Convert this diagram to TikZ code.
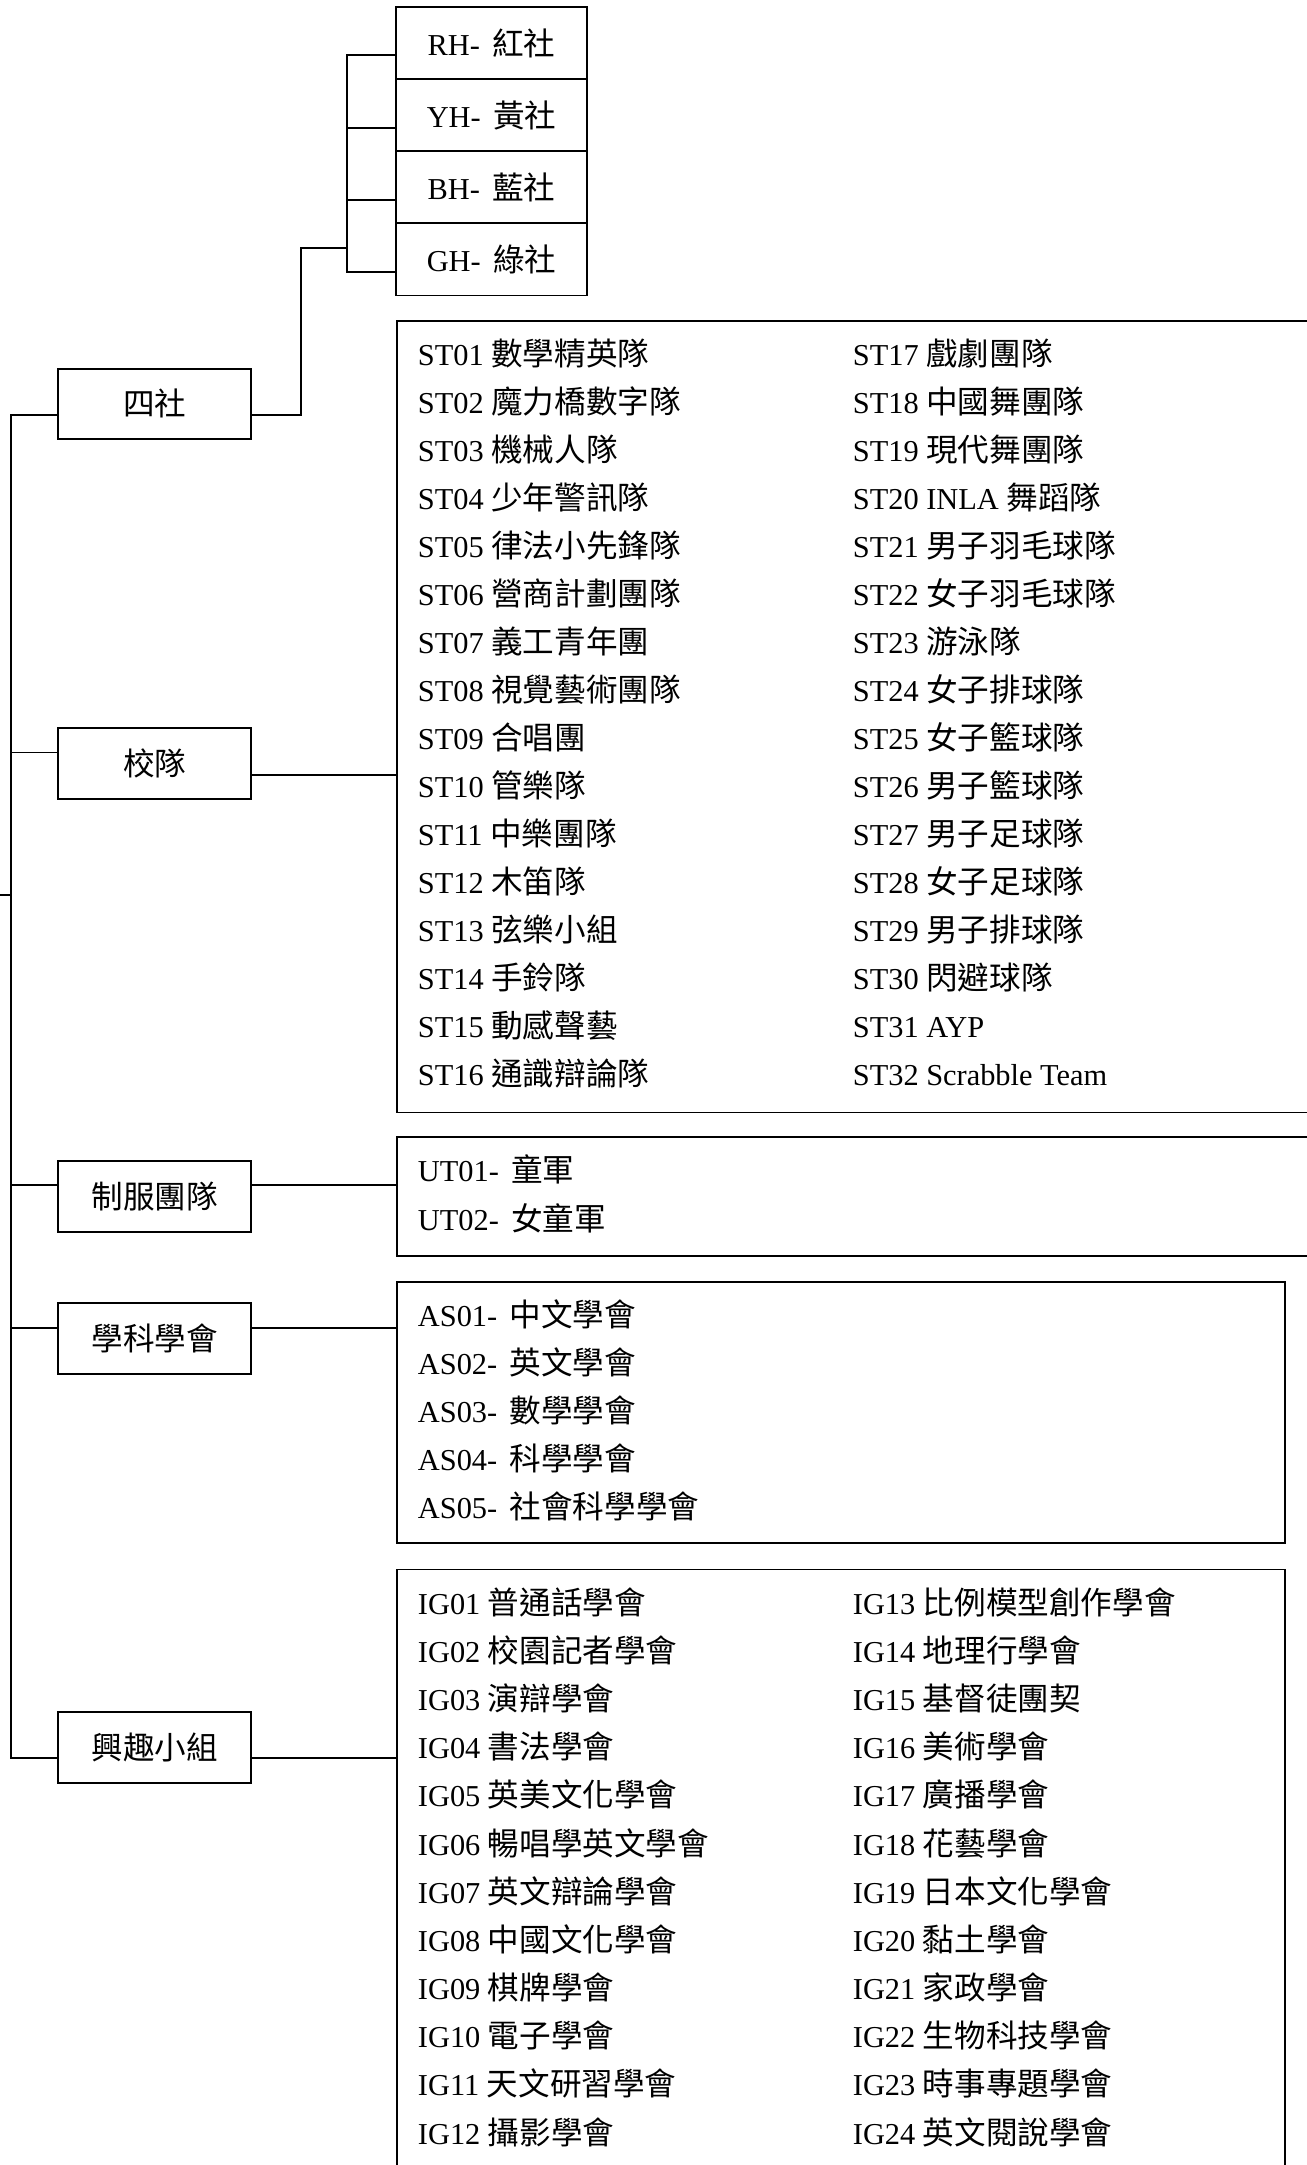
\documentclass[tikz,border=0pt]{standalone}
\usepackage{fontspec}
\setmainfont{Liberation Serif}
\newfontfamily\cjk[Scale=1.04]{Noto Sans CJK TC}
\newcommand{\zh}[1]{{\cjk #1}}

\begin{document}
\begin{tikzpicture}[x=1pt,y=-1pt,line width=1.4pt,
  every node/.style={font=\fontsize{22}{26}\selectfont},
  catbox/.style={draw,minimum width=140pt,minimum height=51pt,inner sep=0pt},
  housebox/.style={draw,minimum width=138pt,minimum height=52.25pt,inner sep=0pt},
  listbox/.style={draw,anchor=north west,inner sep=0pt},
  entry/.style={anchor=base west,inner sep=0pt}]
\useasboundingbox (0,0) rectangle (946,1568);

% the four houses
\node[housebox] (rh) at (356,31.1) {RH-\hspace{9pt}\zh{紅社}};
\node[housebox] (yh) at (356,83.4) {YH-\hspace{9pt}\zh{黃社}};
\node[housebox] (bh) at (356,135.6) {BH-\hspace{9pt}\zh{藍社}};
\node[housebox] (gh) at (356,187.9) {GH-\hspace{9pt}\zh{綠社}};

% categories
\node[catbox] (houses) at (112,292.5) {\zh{四社}};
\node[catbox] (school) at (112,553) {\zh{校隊}};
\node[catbox] (uniform) at (112,866.5) {\zh{制服團隊}};
\node[catbox] (academic) at (112,969.5) {\zh{學科學會}};
\node[catbox] (interest) at (112,1265.5) {\zh{興趣小組}};

% list boxes
\node[listbox,minimum width=673pt,minimum height=573pt] (teamlist) at (287,232) {};
\node[listbox,minimum width=673pt,minimum height=86pt] (uniformlist) at (287,823) {};
\node[listbox,minimum width=643pt,minimum height=189pt] (academiclist) at (287,928) {};
\node[listbox,minimum width=643pt,minimum height=450pt] (interestlist) at (287,1136) {};

\foreach \txt [count=\i from 0] in {ST01 \zh{數學精英隊},ST02 \zh{魔力橋數字隊},ST03 \zh{機械人隊},
  ST04 \zh{少年警訊隊},ST05 \zh{律法小先鋒隊},ST06 \zh{營商計劃團隊},ST07 \zh{義工青年團},
  ST08 \zh{視覺藝術團隊},ST09 \zh{合唱團},ST10 \zh{管樂隊},ST11 \zh{中樂團隊},ST12 \zh{木笛隊},
  ST13 \zh{弦樂小組},ST14 \zh{手鈴隊},ST15 \zh{動感聲藝},ST16 \zh{通識辯論隊},
  ST17 \zh{戲劇團隊},ST18 \zh{中國舞團隊},ST19 \zh{現代舞團隊},ST20 INLA \zh{舞蹈隊},
  ST21 \zh{男子羽毛球隊},ST22 \zh{女子羽毛球隊},ST23 \zh{游泳隊},ST24 \zh{女子排球隊},
  ST25 \zh{女子籃球隊},ST26 \zh{男子籃球隊},ST27 \zh{男子足球隊},ST28 \zh{女子足球隊},
  ST29 \zh{男子排球隊},ST30 \zh{閃避球隊},ST31 AYP,ST32 Scrabble Team}
  \node[entry] (st\i) at ({302+315*int(\i/16)},{265+34.73*mod(\i,16)}) {\txt};

\foreach \txt [count=\i from 0] in {UT01-\hspace{9pt}\zh{童軍},UT02-\hspace{9pt}\zh{女童軍}}
  \node[entry] (ut\i) at (302,{856+35*\i}) {\txt};

\foreach \txt [count=\i from 0] in {AS01-\hspace{9pt}\zh{中文學會},AS02-\hspace{9pt}\zh{英文學會},
  AS03-\hspace{9pt}\zh{數學學會},AS04-\hspace{9pt}\zh{科學學會},AS05-\hspace{9pt}\zh{社會科學學會}}
  \node[entry] (as\i) at (302,{961+34.75*\i}) {\txt};

\foreach \txt [count=\i from 0] in {IG01 \zh{普通話學會},IG02 \zh{校園記者學會},IG03 \zh{演辯學會},
  IG04 \zh{書法學會},IG05 \zh{英美文化學會},IG06 \zh{暢唱學英文學會},IG07 \zh{英文辯論學會},
  IG08 \zh{中國文化學會},IG09 \zh{棋牌學會},IG10 \zh{電子學會},IG11 \zh{天文研習學會},
  IG12 \zh{攝影學會},IG13 \zh{比例模型創作學會},IG14 \zh{地理行學會},IG15 \zh{基督徒團契},
  IG16 \zh{美術學會},IG17 \zh{廣播學會},IG18 \zh{花藝學會},IG19 \zh{日本文化學會},
  IG20 \zh{黏土學會},IG21 \zh{家政學會},IG22 \zh{生物科技學會},IG23 \zh{時事專題學會},
  IG24 \zh{英文閱說學會}}
  \node[entry] (ig\i) at ({302+315*int(\i/12)},{1169+34.9*mod(\i,12)}) {\txt};

% connectors
\coordinate (spine) at (8,0);
\coordinate (root) at (0,648);
\coordinate (hb) at (251,0);
\coordinate (hc) at (218,179.5);

\draw ([yshift=-9pt]rh.west) -- ([yshift=-9pt]rh.west -| hb) -- ([yshift=-9pt]gh.west -| hb) -- ([yshift=-9pt]gh.west);
\foreach \h in {yh,bh}
  \draw ([yshift=-9pt]\h.west) -- ([yshift=-9pt]\h.west -| hb);
\draw ([yshift=-8pt]houses.east) -| (hc) -- (hc -| hb);

\draw ([yshift=-8pt]houses.west) -- ([yshift=-8pt]houses.west -| spine) -- ([yshift=-8pt]interest.west -| spine) -- ([yshift=-8pt]interest.west);
\foreach \n in {school,uniform,academic}
  \draw ([yshift=8pt]\n.west) -- ([yshift=8pt]\n.west -| spine);
\draw (root) -- (root -| spine);

\draw ([yshift=-8pt]school.east) -- ([yshift=-8pt]school.east -| teamlist.west);
\draw ([yshift=8pt]uniform.east) -- ([yshift=8pt]uniform.east -| uniformlist.west);
\draw ([yshift=8pt]academic.east) -- ([yshift=8pt]academic.east -| academiclist.west);
\draw ([yshift=-8pt]interest.east) -- ([yshift=-8pt]interest.east -| interestlist.west);
\end{tikzpicture}
\end{document}
